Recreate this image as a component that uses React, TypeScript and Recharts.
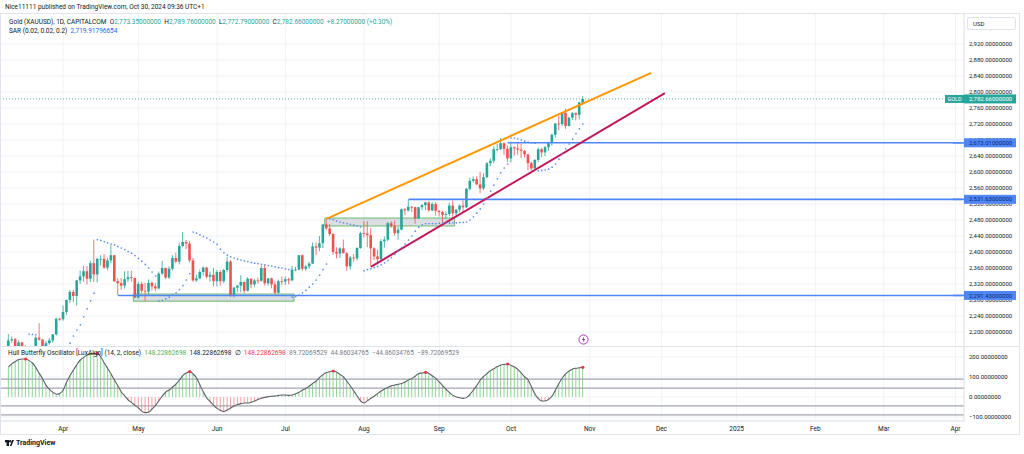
import React from 'react';
import { ComposedChart, Bar, Line, Scatter, XAxis, YAxis, CartesianGrid, ReferenceLine, ReferenceArea } from 'recharts';

// bar index 0 = Apr 1 2024, one slot per trading day
const FIRST_BAR = -16;
const SLOT_START = -18;
const SLOT_END = 263;

const opens = [
  2160, 2179, 2182, 2158, 2174, 2162, 2155, 2160, 2157, 2186, 2181, 2165, 2172, 2179, 2194, 2233,
  2232, 2250, 2280, 2300, 2290, 2329, 2339, 2352, 2333, 2372, 2344, 2383, 2383, 2361, 2379, 2392, 2327, 2322, 2316, 2332, 2337, 2335,
  2286, 2320, 2303, 2301, 2323, 2314, 2309, 2346, 2360, 2336, 2358, 2385, 2376, 2415, 2425, 2421, 2379, 2329, 2334, 2350, 2361, 2338, 2343,
  2327, 2350, 2327, 2355, 2376, 2293, 2311, 2316, 2325, 2303, 2333, 2319, 2329, 2328, 2360, 2322, 2334, 2319, 2298, 2327,
  2326, 2332, 2329, 2356, 2356, 2392, 2358, 2364, 2371, 2414, 2411, 2422, 2469, 2459, 2445, 2400, 2396, 2409, 2397, 2364, 2386, 2384, 2410,
  2447, 2446, 2442, 2409, 2389, 2382, 2427, 2431, 2472, 2465, 2447, 2456, 2507, 2504, 2513, 2512, 2484, 2512, 2517, 2524, 2504, 2520,
  2503, 2500, 2493, 2495, 2516, 2497, 2506, 2516, 2512, 2558, 2578, 2582, 2569, 2559, 2587, 2622, 2628, 2657, 2657, 2672, 2658,
  2634, 2662, 2659, 2656, 2653, 2644, 2622, 2609, 2630, 2657, 2649, 2662, 2674, 2693, 2721, 2720, 2748, 2715, 2736, 2747, 2743, 2773.35,
];
const highs = [
  2195, 2189, 2185, 2179, 2175, 2167, 2165, 2163, 2189, 2222, 2183, 2177, 2185, 2195, 2236, 2236,
  2266, 2281, 2305, 2305, 2330, 2354, 2365, 2365, 2378, 2431, 2385, 2392, 2395, 2385, 2417, 2392, 2334, 2335, 2352, 2353, 2353, 2336,
  2326, 2326, 2323, 2331, 2326, 2323, 2351, 2378, 2361, 2364, 2392, 2398, 2422, 2450, 2430, 2427, 2385, 2343, 2356, 2364, 2363, 2351, 2360,
  2355, 2355, 2358, 2388, 2380, 2313, 2318, 2342, 2326, 2337, 2335, 2333, 2336, 2365, 2368, 2335, 2336, 2326, 2331, 2339,
  2339, 2336, 2365, 2363, 2392, 2394, 2368, 2375, 2424, 2424, 2440, 2469, 2483, 2470, 2448, 2412, 2412, 2431, 2400, 2390, 2395, 2412, 2451,
  2477, 2477, 2460, 2412, 2406, 2432, 2439, 2475, 2477, 2479, 2463, 2509, 2510, 2531, 2515, 2513, 2512, 2520, 2526, 2527, 2524, 2525,
  2505, 2503, 2502, 2523, 2529, 2507, 2519, 2529, 2560, 2586, 2589, 2589, 2600, 2597, 2625, 2634, 2664, 2670, 2685, 2674, 2666,
  2673, 2664, 2672, 2670, 2655, 2645, 2625, 2633, 2661, 2660, 2665, 2675, 2696, 2722, 2740, 2749, 2758, 2738, 2750, 2749, 2775, 2789.76,
];
const lows = [
  2155, 2173, 2150, 2156, 2153, 2152, 2146, 2146, 2146, 2178, 2158, 2163, 2168, 2173, 2191, 2228,
  2228, 2243, 2272, 2275, 2266, 2320, 2326, 2319, 2325, 2325, 2324, 2366, 2358, 2355, 2372, 2325, 2292, 2306, 2308, 2325, 2326, 2285,
  2284, 2296, 2277, 2291, 2304, 2302, 2306, 2343, 2332, 2333, 2354, 2372, 2369, 2412, 2407, 2374, 2326, 2325, 2332, 2341, 2334, 2326, 2314,
  2314, 2316, 2322, 2349, 2287, 2286, 2299, 2299, 2297, 2301, 2310, 2313, 2321, 2326, 2316, 2316, 2309, 2293, 2296, 2318,
  2318, 2319, 2327, 2352, 2354, 2353, 2352, 2358, 2370, 2392, 2402, 2410, 2455, 2440, 2393, 2384, 2385, 2397, 2353, 2356, 2376, 2379, 2408,
  2436, 2412, 2364, 2380, 2369, 2380, 2411, 2427, 2460, 2441, 2431, 2454, 2492, 2501, 2500, 2471, 2483, 2505, 2505, 2501, 2502, 2491,
  2489, 2472, 2482, 2490, 2485, 2486, 2500, 2500, 2510, 2554, 2574, 2567, 2547, 2555, 2584, 2614, 2622, 2652, 2655, 2643, 2625,
  2624, 2641, 2643, 2635, 2636, 2604, 2604, 2603, 2625, 2637, 2640, 2653, 2666, 2686, 2704, 2715, 2708, 2714, 2730, 2729, 2731, 2772.79,
];
const closes = [
  2179, 2182, 2158, 2174, 2162, 2155, 2160, 2157, 2186, 2181, 2165, 2172, 2179, 2194, 2233, 2232,
  2250, 2280, 2300, 2290, 2329, 2339, 2352, 2333, 2372, 2344, 2383, 2383, 2361, 2379, 2392, 2327, 2322, 2316, 2332, 2337, 2335, 2286,
  2320, 2303, 2301, 2323, 2314, 2309, 2346, 2360, 2336, 2358, 2385, 2376, 2415, 2425, 2421, 2379, 2329, 2334, 2350, 2361, 2338, 2343, 2327,
  2350, 2327, 2355, 2376, 2293, 2311, 2316, 2325, 2303, 2333, 2319, 2329, 2328, 2360, 2322, 2334, 2319, 2298, 2327, 2326,
  2332, 2329, 2356, 2356, 2392, 2358, 2364, 2371, 2414, 2411, 2422, 2469, 2459, 2445, 2400, 2396, 2409, 2397, 2364, 2386, 2384, 2410, 2447,
  2446, 2442, 2409, 2389, 2382, 2427, 2431, 2472, 2465, 2447, 2456, 2507, 2504, 2513, 2512, 2484, 2512, 2517, 2524, 2504, 2520, 2503,
  2500, 2493, 2495, 2516, 2497, 2506, 2516, 2512, 2558, 2578, 2582, 2569, 2559, 2587, 2622, 2628, 2657, 2657, 2672, 2658, 2634,
  2662, 2659, 2656, 2653, 2644, 2622, 2609, 2630, 2657, 2649, 2662, 2674, 2693, 2721, 2720, 2748, 2715, 2736, 2747, 2743, 2774, 2782.66,
];

// Parabolic SAR (0.02, 0.02, 0.2) dots, null where not visible
const sar = [
  null, null, null, null, null, null, 2195, 2194, 2193,
  null, null, null, null, null, null, null, null, null,
  2172, 2190, 2205, 2218, 2238, 2258, 2278, 2297,
  2431, 2429, 2426, 2423, 2420, 2418, 2414, 2410, 2406, 2401, 2397, 2391, 2384, 2377, 2369, 2360, 2350, 2340,
  2277, 2279, 2283, 2287, 2292, 2298, 2306, 2316, 2330, 2346,
  2450, 2447, 2443, 2439, 2435, 2430, 2425, 2419, 2407, 2398, 2392, 2388, 2385, 2382, 2380, 2378, 2376, 2374, 2372, 2371,
  2369, 2368, 2366, 2365, 2363, 2361, 2360, 2358, 2356,
  2287, 2289, 2292, 2298, 2304, 2312, 2320, 2330, 2342, 2356, 2370,
  2483, 2481, 2478, 2475, 2473, 2471, 2469, 2467, 2465, 2463,
  2353, 2356, 2358, 2361, 2364, 2368, 2373, 2379, 2386, 2394, 2402, 2411, 2420, 2430, 2440, 2452, 2462, 2468, 2471,
  2471, 2471, 2471, 2472, 2472, 2472, 2472, 2473, 2473, 2474, 2474, 2475, 2480, 2488, 2497, 2508, 2520, 2535, 2552,
  2567, 2583, 2598, 2610, 2620,
  2685, 2685, 2683, 2680, 2677, 2675, 2673, 2672,
  2603, 2604, 2605, 2607, 2612, 2620, 2632, 2645, 2658, 2670, 2682, 2696, 2708, 2720,
];

// Hull Butterfly Oscillator values
const hbo = [
  150, 167, 178, 187, 190, 190, 182, 170, 147, 118, 90, 58, 38, 23, 14, 18,
  35, 75, 108, 135, 162, 185, 198, 210, 215, 218, 218, 200, 170, 143, 115, 85, 55, 25, 5, -15, -28, -42,
  -55, -72, -78, -76, -60, -42, -18, 5, 25, 35, 50, 65, 85, 108, 120, 127, 115, 95, 60, 25, -5, -23, -42,
  -57, -68, -73, -65, -55, -45, -38, -33, -30, -30, -26, -20, -12, -6, -2, 2, 4, 5, 8, 10,
  10, 8, 10, 16, 24, 35, 43, 55, 68, 80, 98, 112, 122, 127, 130, 124, 112, 100, 78, 55, 30, 5, -20,
  -30, -18, -7, 5, 18, 30, 40, 48, 56, 60, 64, 68, 75, 85, 93, 105, 117, 120, 123, 118, 105, 93,
  75, 57, 38, 22, 8, 0, -4, -7, -2, 14, 35, 58, 85, 103, 118, 132, 142, 152, 160, 163, 165,
  158, 150, 138, 120, 100, 85, 50, 15, -8, -20, -20, -12, 5, 35, 68, 95, 117, 130, 140, 144, 146, 148.23,
];
const hboPeaks = [-11, 10, 37, 79, 106, 130, 152];
const hboLevels = [89.72069529, 44.86034765, -44.86034765, -89.72069529];

const monthTicks = [0, 22, 45, 65, 88, 110, 131, 154, 175, 197, 220, 240, 261];
const monthLabels = ['Apr', 'May', 'Jun', 'Jul', 'Aug', 'Sep', 'Oct', 'Nov', 'Dec', '2025', 'Feb', 'Mar', 'Apr'];

const priceTicks = [2200, 2240, 2280, 2320, 2360, 2400, 2440, 2480, 2520, 2560, 2600, 2640, 2680, 2720, 2760, 2800, 2840, 2880, 2920];
const oscTicks = [-100, 0, 100, 200];

const levels = [
  { price: 2291.43, from: 16 },
  { price: 2531.63, from: 101 },
  { price: 2673.01, from: 130 },
];
const lastPrice = 2782.66;

const UP = '#26a69a';
const DOWN = '#ef5350';
const BLUE = '#4f86f7';
const SAR_BLUE = '#5b8def';
const TEXT = '#131722';
const GRID = '#f0f3fa';
const BORDER = '#e0e3eb';
const FONT = 'Roboto, sans-serif';

const rows: any[] = [];
for (let i = SLOT_START; i <= SLOT_END; i++) {
  const k = i - FIRST_BAR;
  const has = k >= 0 && k < closes.length;
  rows.push({
    i,
    range: has ? [lows[k], highs[k]] : null,
    o: has ? opens[k] : null,
    h: has ? highs[k] : null,
    l: has ? lows[k] : null,
    c: has ? closes[k] : null,
    sar: has ? sar[k] : null,
    hbo: has ? hbo[k] : null,
    peak: has && hboPeaks.includes(i) ? hbo[k] : null,
  });
}

const fmt = (v: number) => {
  const [a, b] = Math.abs(v).toFixed(8).split('.');
  return (v < 0 ? '−' : '') + a.replace(/\B(?=(\d{3})+(?!\d))/g, ',') + '.' + b;
};

const Candle = (props: any) => {
  const { x, y, width, height, payload } = props;
  if (!payload || payload.o == null) return null;
  const { o, h, l, c } = payload;
  const top = Math.min(y, y + height);
  const k = Math.abs(height) / (h - l);
  const cx = x + width / 2;
  const bTop = top + (h - Math.max(o, c)) * k;
  const bBot = top + (h - Math.min(o, c)) * k;
  const color = c >= o ? UP : DOWN;
  return (
    <g>
      <line x1={cx} x2={cx} y1={top} y2={top + Math.abs(height)} stroke={color} strokeWidth={0.8} />
      <rect x={cx - 1.3} y={bTop} width={2.6} height={Math.max(bBot - bTop, 0.8)} fill={color} />
    </g>
  );
};

const SarDot = (props: any) => {
  const { cx, cy, payload } = props;
  if (!payload || payload.sar == null || !Number.isFinite(cy)) return null;
  return <circle cx={cx} cy={cy} r={0.85} fill={SAR_BLUE} />;
};

const PeakDot = (props: any) => {
  const { cx, cy, payload } = props;
  if (!payload || payload.peak == null || !Number.isFinite(cy)) return null;
  return <circle cx={cx} cy={cy} r={1.6} fill="#f23645" />;
};

const HistBar = (props: any) => {
  const { x, y, width, height, payload } = props;
  if (!payload || payload.hbo == null) return null;
  const top = Math.min(y, y + height);
  return <rect x={x + width / 2 - 0.5} y={top} width={1} height={Math.abs(height)} fill={payload.hbo >= 0 ? '#8fd694' : '#f5a3a3'} />;
};

const PriceTick = (props: any) => {
  const { x, y, payload } = props;
  const v = payload.value;
  const lvl = levels.find((d) => d.price === v);
  if (lvl) {
    return (
      <g>
        <line x1={x - 16} x2={x - 5} y1={y} y2={y} stroke={BLUE} strokeWidth={1.6} />
        <rect x={x - 5} y={y - 4.5} width={52} height={9} fill={BLUE} />
        <text x={x} y={y} dy="0.35em" fontSize={6} fontFamily={FONT} fill="#0b2a6b">{fmt(v)}</text>
      </g>
    );
  }
  if (v === lastPrice) {
    return (
      <g>
        <rect x={x - 24} y={y - 4} width={19} height={8} fill={UP} />
        <text x={x - 14.5} y={y} dy="0.35em" textAnchor="middle" fontSize={5.5} fontFamily={FONT} fill="#fff">GOLD</text>
        <rect x={x - 5} y={y - 4.5} width={52} height={9} fill={UP} />
        <text x={x} y={y} dy="0.35em" fontSize={6} fontFamily={FONT} fill="#fff">{fmt(v)}</text>
      </g>
    );
  }
  return <text x={x} y={y} dy="0.35em" fontSize={6} fontFamily={FONT} fill={TEXT}>{fmt(v)}</text>;
};

const OscTick = (props: any) => {
  const { x, y, payload } = props;
  return <text x={x} y={y} dy="0.35em" fontSize={6} fontFamily={FONT} fill={TEXT}>{fmt(payload.value)}</text>;
};

const span = (color: string, text: string) => <span style={{ color }}>{text}</span>;

export default function App() {
  return (
    <div style={{ position: 'absolute', left: 0, top: 0, width: 1024, height: 454, background: '#fff', overflow: 'hidden', fontFamily: FONT }}>
      <div style={{ position: 'absolute', left: 5, top: 3, fontSize: 6.5, color: TEXT, whiteSpace: 'nowrap' }}>
        Nice11111 published on TradingView.com, Oct 30, 2024 09:36 UTC+1
      </div>

      <div style={{ position: 'absolute', left: 0, top: 14 }}>
        <ComposedChart width={1020} height={332} data={rows} margin={{ top: 0, right: 0, bottom: 0, left: 0 }} barCategoryGap={0}>
          <CartesianGrid stroke={GRID} horizontalValues={priceTicks} />
          <XAxis dataKey="i" type="category" ticks={monthTicks} hide />
          <YAxis
            orientation="right"
            width={56}
            domain={[2165, 2995]}
            allowDataOverflow
            ticks={[...priceTicks, ...levels.map((d) => d.price), lastPrice]}
            interval={0}
            tickSize={0}
            tickMargin={5}
            tickLine={false}
            axisLine={{ stroke: BORDER }}
            tick={PriceTick}
          />
          <ReferenceArea x1={21} x2={67} y1={2277} y2={2295} fill="#b2b5be" fillOpacity={0.45} stroke="#4caf50" strokeOpacity={0.8} strokeWidth={1} />
          <ReferenceArea x1={77} x2={114} y1={2465} y2={2485} fill="#b2b5be" fillOpacity={0.45} stroke="#4caf50" strokeOpacity={0.8} strokeWidth={1} />
          <ReferenceLine y={lastPrice} stroke={UP} strokeDasharray="1 2" strokeWidth={0.8} />
          {levels.map((d) => (
            <ReferenceLine key={d.price} segment={[{ x: d.from, y: d.price }, { x: SLOT_END, y: d.price }]} stroke={BLUE} strokeWidth={1.6} />
          ))}
          <Bar dataKey="range" shape={Candle} isAnimationActive={false} />
          <Scatter dataKey="sar" shape={SarDot} isAnimationActive={false} />
          <ReferenceLine segment={[{ x: 77, y: 2483 }, { x: 172, y: 2848 }]} stroke="#ff9800" strokeWidth={2} />
          <ReferenceLine segment={[{ x: 90, y: 2363 }, { x: 176, y: 2797 }]} stroke="#c2185b" strokeWidth={2} />
        </ComposedChart>
      </div>

      <div style={{ position: 'absolute', left: 0, top: 346 }}>
        <ComposedChart width={1020} height={89} data={rows} margin={{ top: 0, right: 0, bottom: 0, left: 0 }} barCategoryGap={0}>
          <CartesianGrid stroke={GRID} />
          <XAxis
            dataKey="i"
            type="category"
            ticks={monthTicks}
            interval={0}
            height={14}
            tickLine={false}
            tickSize={0}
            tickMargin={5}
            axisLine={{ stroke: BORDER }}
            tick={{ fontSize: 6.5, fill: TEXT, fontFamily: FONT }}
            tickFormatter={(v: number) => monthLabels[monthTicks.indexOf(v)]}
          />
          <YAxis
            orientation="right"
            width={56}
            domain={[-120, 255]}
            allowDataOverflow
            ticks={oscTicks}
            interval={0}
            tickSize={0}
            tickMargin={5}
            tickLine={false}
            axisLine={{ stroke: BORDER }}
            tick={OscTick}
          />
          {hboLevels.map((v) => (
            <ReferenceLine key={v} y={v} stroke="#a3a6af" strokeWidth={1.2} />
          ))}
          <Bar dataKey="hbo" shape={HistBar} isAnimationActive={false} />
          <Line dataKey="hbo" type="monotone" stroke="#5d606b" strokeWidth={1.1} dot={false} isAnimationActive={false} />
          <Scatter dataKey="peak" shape={PeakDot} isAnimationActive={false} />
        </ComposedChart>
      </div>

      {/* frame and pane separators */}
      <div style={{ position: 'absolute', left: 0, top: 13, width: 1020, height: 422, border: `1px solid ${BORDER}`, boxSizing: 'border-box', pointerEvents: 'none' }} />
      <div style={{ position: 'absolute', left: 0, top: 346, width: 1020, height: 1, background: BORDER }} />

      <div style={{ position: 'absolute', left: 967, top: 17, width: 49, height: 13, border: `1px solid ${BORDER}`, borderRadius: 2, boxSizing: 'border-box', fontSize: 6, color: TEXT, lineHeight: '11px', paddingLeft: 5 }}>USD</div>

      <div style={{ position: 'absolute', left: 9, top: 18, fontSize: 6.5, color: TEXT, whiteSpace: 'nowrap', lineHeight: '8.5px' }}>
        <div>
          Gold (XAUUSD), 1D, CAPITALCOM&nbsp;&nbsp;O{span(UP, '2,773.35000000')}&nbsp;&nbsp;H{span(UP, '2,789.76000000')}&nbsp;&nbsp;L{span(UP, '2,772.79000000')}&nbsp;&nbsp;C{span(UP, '2,782.66000000')}&nbsp;&nbsp;{span(UP, '+8.27000000 (+0.30%)')}
        </div>
        <div>
          SAR (0.02, 0.02, 0.2)&nbsp;&nbsp;{span('#2962ff', '2,719.91796654')}
        </div>
      </div>

      <div style={{ position: 'absolute', left: 8, top: 348.5, fontSize: 6.5, color: TEXT, whiteSpace: 'nowrap' }}>
        Hull Butterfly Oscillator [LuxAlgo] (14, 2, close)&nbsp;&nbsp;{span('#4caf50', '148.22862698')}&nbsp;&nbsp;{span(TEXT, '148.22862698')}&nbsp;&nbsp;∅&nbsp;&nbsp;{span('#f23645', '148.22862698')}&nbsp;&nbsp;{span('#787b86', '89.72069529')}&nbsp;&nbsp;{span('#787b86', '44.86034765')}&nbsp;&nbsp;{span('#787b86', '−44.86034765')}&nbsp;&nbsp;{span('#787b86', '−89.72069529')}
      </div>

      <svg style={{ position: 'absolute', left: 578, top: 334 }} width={11} height={11}>
        <circle cx={5.5} cy={5.5} r={4.6} fill="#fff" stroke="#9c27b0" strokeWidth={0.9} />
        <path d="M6.2 2.6 L3.8 6 H5.4 L4.9 8.4 L7.3 5 H5.7 Z" fill="#9c27b0" />
      </svg>

      <div style={{ position: 'absolute', left: 5, top: 439, display: 'flex', alignItems: 'center', gap: 2, fontSize: 7, fontWeight: 700, color: TEXT }}>
        <svg width={9} height={6}>
          <rect x={0} y={0} width={4} height={2.4} fill={TEXT} />
          <rect x={1.6} y={0} width={2.4} height={6} fill={TEXT} />
          <circle cx={5.2} cy={1.3} r={1.2} fill={TEXT} />
          <path d="M6.4 6 L9 0 H7.2 L4.8 6 Z" fill={TEXT} />
        </svg>
        TradingView
      </div>
    </div>
  );
}
